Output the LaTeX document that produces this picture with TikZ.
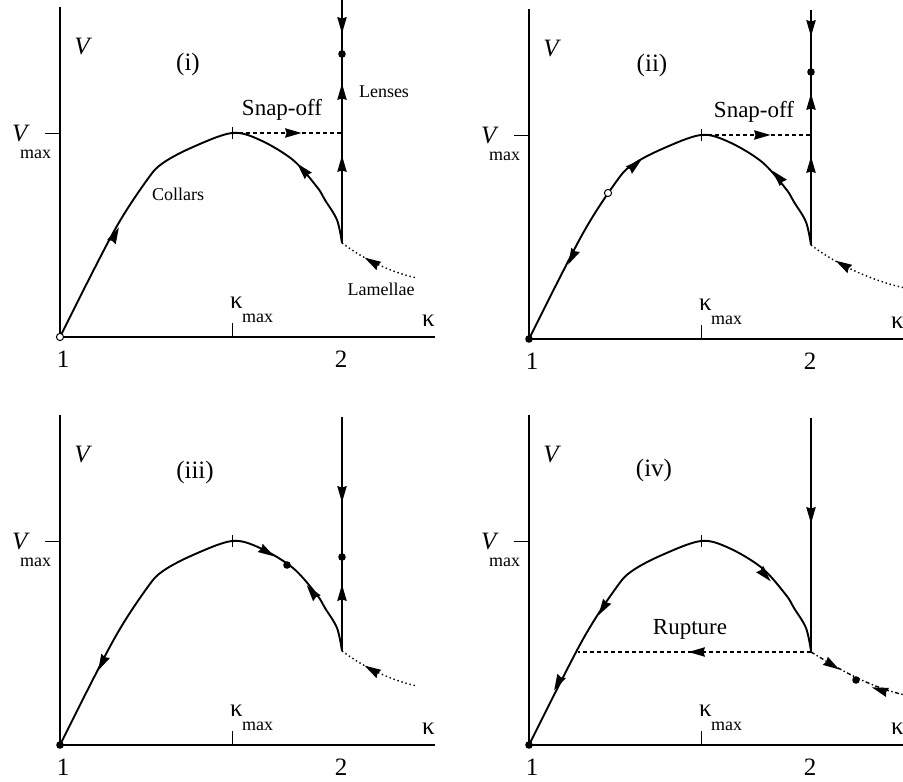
\documentclass[tikz,border=0pt]{standalone}
\usepackage{fontspec}
\setmainfont{Liberation Serif}
\tikzset{
 crv/.style={line width=1.9pt, line join=round},
 axl/.style={line width=1.2pt},
 thn/.style={line width=0.9pt},
 dsh/.style={line width=1.3pt, dash pattern=on 4pt off 3pt},
 dtt/.style={line width=1.4pt, dash pattern=on 1.4pt off 2.8pt},
 dshdot/.style={line width=1.4pt, dash pattern=on 4pt off 2.5pt on 1.4pt off 2.5pt},
 big/.style={font=\fontsize{25}{25}\selectfont, inner sep=0pt},
 mid/.style={font=\fontsize{23}{23}\selectfont, inner sep=0pt},
 sml/.style={font=\fontsize{18}{18}\selectfont, inner sep=0pt},
}
\newcommand\arw[3]{\fill[shift={(#1,#2)},rotate=#3] (8.5,0) -- (-8,4.8) -- (-6.5,0) -- (-8,-4.8) -- cycle;}
\newcommand\dotp[2]{\fill (#1,#2) circle (3.8);}
\newcommand\panelbase[2]{%
  % axes
  \draw[axl] (0,330) -- (0,0) -- (#2,0);
  % ticks
  \draw[thn] (-15,204) -- (0,204);
  \draw[thn] (172,0) -- (172,14);
  \draw[thn] (172,198) -- (172,210);
  % labels
  \node[big, font=\fontsize{25}{25}\selectfont\itshape] (#1V) at (22,290) {V};
  \node[big, anchor=base west, font=\fontsize{25}{25}\selectfont\itshape] (#1Vm) at (-48,195) {V};
  \node[sml, anchor=base west] (#1Vms) at (-40,178) {max};
  \node[big, anchor=base west] (#1km) at (170,28) {κ};
  \node[sml, anchor=base west] (#1kms) at (182,14) {max};
  \node[big, anchor=base west] (#1k) at (362,10) {κ};
  \node[big] (#1one) at (3,-22) {1};
  \node[big] (#1two) at (281,-22) {2};
  % main curve
  \draw[crv] plot[smooth, tension=0.55] coordinates {(0,0) (53,104) (87,157) (103,174) (133,190) (172,204) (200,197) (233,177) (257,150) (265,137) (277,117) (282,94)};
}
\begin{document}
\begin{tikzpicture}[x=1pt,y=1pt]
\useasboundingbox (0,0) rectangle (903,782);
\fill[white] (0,0) rectangle (903,782);

% ---------- panel (i)
\begin{scope}[shift={(60,445)}]
  \panelbase{a}{375}
  \node[big] (alab) at (128,273) {(i)};
  \arw{55}{102}{63}
  \arw{243}{167}{132}
  \draw[dsh] (172,204) -- (282,204);
  \arw{233}{204}{0}
  \draw[crv] (282,337) -- (282,94);
  \arw{282}{312}{-90}
  \dotp{282}{283}
  \arw{282}{245}{90}
  \arw{282}{173}{90}
  \draw[dtt] (282,94) .. controls (298,82) and (325,66) .. (357,59);
  \arw{312}{75}{150}
  \filldraw[fill=white, line width=1pt] (0,0) circle (3.6);
  \node[sml] (alen) at (324,245) {Lenses};
  \node[mid] (asnap) at (222,227) {Snap-off};
  \node[sml] (acol) at (118,143) {Collars};
  \node[sml] (alam) at (321,48) {Lamellae};
\end{scope}

% ---------- panel (ii)
\begin{scope}[shift={(529,443)}]
  \panelbase{b}{380}
  \node[big] (blab) at (123,274) {(ii)};
  \dotp{0}{0}
  \arw{43}{82}{243}
  \arw{106}{174}{40}
  \arw{249}{162}{132}
  \filldraw[fill=white, line width=1pt] (79,146) circle (3.6);
  \draw[dsh] (172,204) -- (282,204);
  \arw{233}{204}{0}
  \draw[crv] (282,329) -- (282,94);
  \arw{282}{311}{-90}
  \dotp{282}{267}
  \arw{282}{237}{90}
  \arw{282}{174}{90}
  \draw[dtt] (282,94) .. controls (300,80) and (335,60) .. (376,51);
  \arw{314}{74}{150}
  \node[mid] (bsnap) at (225,227) {Snap-off};
\end{scope}

% ---------- panel (iii)
\begin{scope}[shift={(60,37)}]
  \panelbase{c}{375}
  \node[big] (clab) at (135,273) {(iii)};
  \dotp{0}{0}
  \arw{42}{82}{243}
  \arw{207}{193}{-31}
  \dotp{227}{180}
  \arw{252}{153}{128}
  \draw[crv] (282,328) -- (282,94);
  \arw{282}{251}{-90}
  \dotp{282}{188}
  \arw{282}{152}{90}
  \draw[dtt] (282,94) .. controls (298,82) and (325,66) .. (357,59);
  \arw{312}{75}{150}
\end{scope}

% ---------- panel (iv)
\begin{scope}[shift={(529,37)}]
  \panelbase{d}{380}
  \node[big] (dlab) at (125,275) {(iv)};
  \dotp{0}{0}
  \arw{29}{62}{243}
  \arw{74}{137}{238}
  \arw{236}{170}{-48}
  \draw[crv] (282,327) -- (282,93);
  \arw{282}{230}{-90}
  \draw[dsh] (282,93) -- (49,93);
  \arw{168}{93}{180}
  \draw[dshdot] (282,93) .. controls (310,76) and (340,58) .. (376,50);
  \arw{303}{80}{-32}
  \dotp{327}{65}
  \arw{351}{55}{162}
  \node[mid] (drup) at (161,116) {Rupture};
\end{scope}
\end{tikzpicture}
\end{document}
